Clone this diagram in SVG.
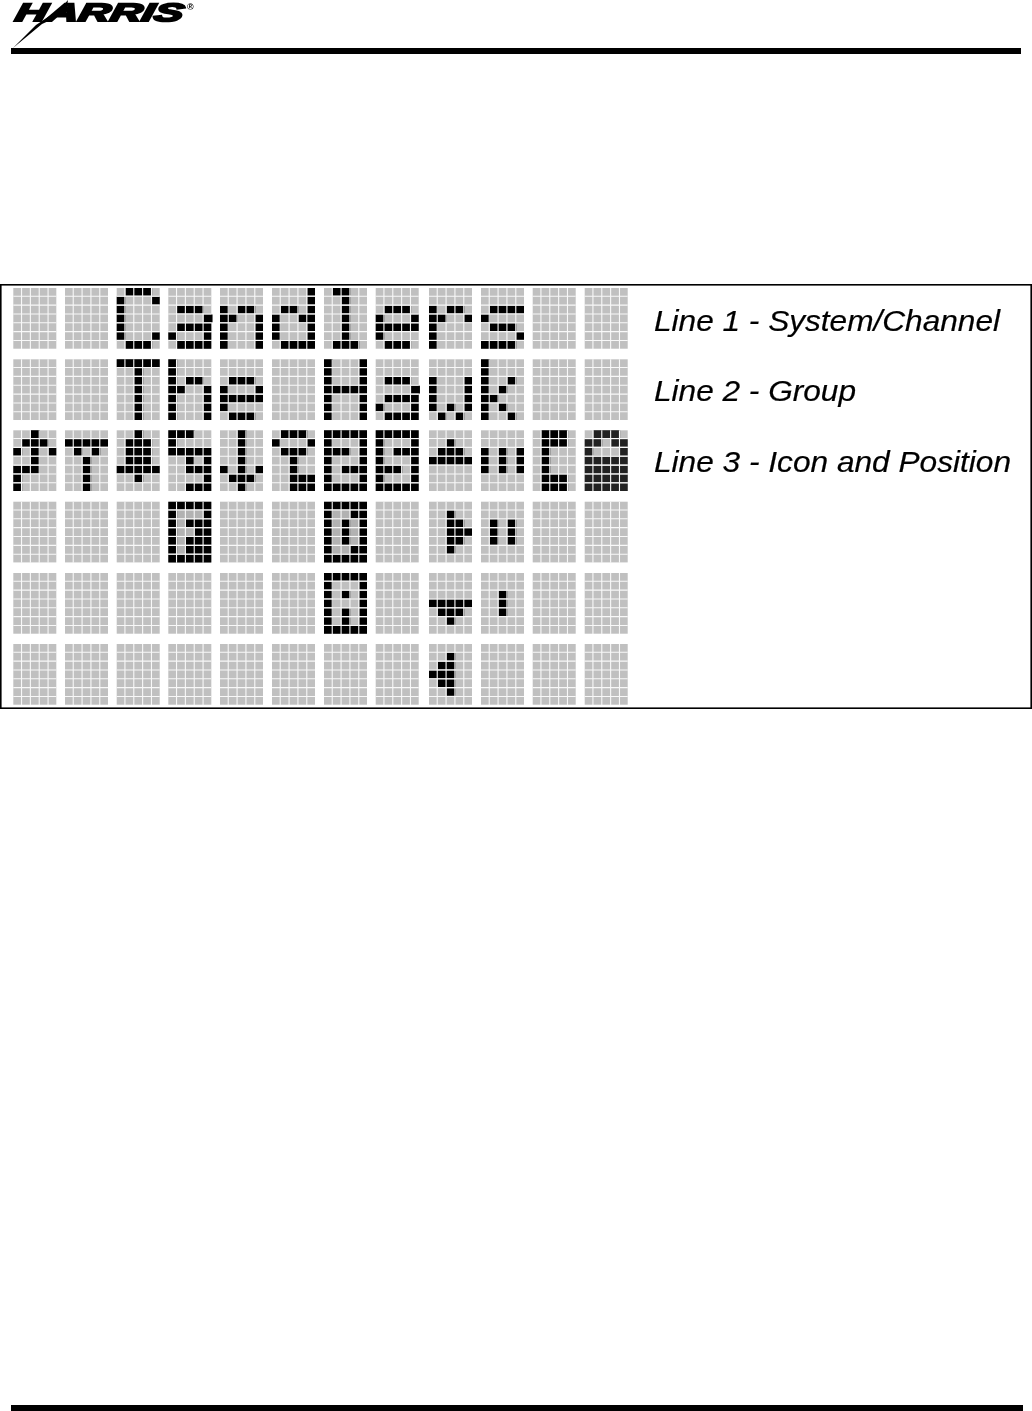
<svg xmlns="http://www.w3.org/2000/svg" width="1032" height="1411" viewBox="0 0 1032 1411">
<style>
.k,.d,.t{fill:none;stroke-width:.86}
.k{stroke:#000}
.g{fill:#c0c0c0}
.d{stroke:#222}
.t{stroke:#b2b2b2}
.gap{fill:none;stroke:#f8f8f8;stroke-width:1.1}
.lab{font-family:"Liberation Sans",Arial,sans-serif;font-style:italic;font-size:29px;fill:#000;stroke:#000;stroke-width:.2}
.bar{fill:#000}
.soft{filter:url(#soft)}
</style>
<defs>
<filter id="soft" color-interpolation-filters="sRGB"><feGaussianBlur stdDeviation=".35"/></filter>
<rect id="b" class="g" width="4.86" height="6.86"/>
<path id="ga" class="k" d="M1 2.43h3M4 3.43h1M1 4.43h3.860M0 5.43h1M4 5.43h.86M1 6.43h3.860"/>
<path id="ge" class="k" d="M1 2.43h3M0 3.43h1M4 3.43h.86M0 4.43h4.860M0 5.43h1M1 6.43h3"/>
<path id="v" class="gap" d="M8.23 0V61M17.08 0V61M25.93 0V61M34.78 0V61"/>
<path id="h" class="gap" d="M0 8.23H43M0 17.08H43M0 25.93H43M0 34.78H43M0 43.63H43M0 52.48H43"/>
<g id="grid"><use href="#v"/><use href="#h"/></g>
<g id="gridrow"><use href="#grid" x="13.3"/><use href="#grid" x="65"/><use href="#grid" x="116.7"/><use href="#grid" x="168.3"/><use href="#grid" x="220"/><use href="#grid" x="272"/><use href="#grid" x="324"/><use href="#grid" x="375.7"/><use href="#grid" x="429"/><use href="#grid" x="481"/><use href="#grid" x="532.7"/><use href="#grid" x="584.7"/></g>
</defs>
<rect width="1032" height="1411" fill="#fff"/>
<g id="logo" class="soft">
<text transform="translate(14 21) skewX(-12)" font-family="'Liberation Sans',Arial,sans-serif" font-weight="700" font-style="italic" font-size="25" textLength="168" lengthAdjust="spacingAndGlyphs" fill="#000" stroke="#000" stroke-width="1.9">HARRIS</text>
<polygon points="13,48 36,25 60,9 68,0 66,13 42,24" fill="#000"/>
<text x="187" y="10" font-family="'Liberation Sans',Arial,sans-serif" font-weight="700" font-size="9" fill="#000">®</text>
</g>
<rect id="top-rule" class="bar" x="11" y="48" width="1010" height="6"/>
<rect id="bottom-rule" class="bar" x="11" y="1405" width="1012" height="6"/>
<rect id="frame" x=".8" y="284.8" width="1030.4" height="423.4" fill="none" stroke="#000" stroke-width="1.6"/>

<g id="display" class="soft">
<g id="line-1">
<g id="r1c0" transform="translate(13.3 288) scale(8.85)"><use href="#b"/></g>
<g id="r1c1" transform="translate(65 288) scale(8.85)"><use href="#b"/></g>
<g id="r1c2" transform="translate(116.7 288) scale(8.85)"><use href="#b"/><path class="k" d="M1 .43h3M0 1.43h1M4 1.43h.86M0 2.43h1M0 3.43h1M0 4.43h1M0 5.43h1M4 5.43h.86M1 6.43h3"/></g>
<g id="r1c3" transform="translate(168.3 288) scale(8.85)"><use href="#b"/><use href="#ga"/></g>
<g id="r1c4" transform="translate(220 288) scale(8.85)"><use href="#b"/><path class="k" d="M0 2.43h1M2 2.43h2M0 3.43h2M4 3.43h.86M0 4.43h1M4 4.43h.86M0 5.43h1M4 5.43h.86M0 6.43h1M4 6.43h.86"/></g>
<g id="r1c5" transform="translate(272 288) scale(8.85)"><use href="#b"/><path class="k" d="M4 .43h.86M4 1.43h.86M1 2.43h2M4 2.43h.86M0 3.43h1M3 3.43h1.860M0 4.43h1M4 4.43h.86M0 5.43h1M4 5.43h.86M1 6.43h3.860"/></g>
<g id="r1c6" transform="translate(324 288) scale(8.85)"><use href="#b"/><path class="k" d="M1 .43h2M2 1.43h1M2 2.43h1M2 3.43h1M2 4.43h1M2 5.43h1M1 6.43h3"/></g>
<g id="r1c7" transform="translate(375.7 288) scale(8.85)"><use href="#b"/><use href="#ge"/></g>
<g id="r1c8" transform="translate(429 288) scale(8.85)"><use href="#b"/><path class="k" d="M0 2.43h1M2 2.43h2M0 3.43h2M4 3.43h.86M0 4.43h1M0 5.43h1M0 6.43h1"/></g>
<g id="r1c9" transform="translate(481 288) scale(8.85)"><use href="#b"/><path class="k" d="M1 2.43h3.860M0 3.43h1M1 4.43h3M4 5.43h.86M0 6.43h4"/></g>
<g id="r1c10" transform="translate(532.7 288) scale(8.85)"><use href="#b"/></g>
<g id="r1c11" transform="translate(584.7 288) scale(8.85)"><use href="#b"/></g>
</g>

<g id="line-2">
<g id="r2c0" transform="translate(13.3 359.3) scale(8.85)"><use href="#b"/></g>
<g id="r2c1" transform="translate(65 359.3) scale(8.85)"><use href="#b"/></g>
<g id="r2c2" transform="translate(116.7 359.3) scale(8.85)"><use href="#b"/><path class="k" d="M0 .43h4.860M2 1.43h1M2 2.43h1M2 3.43h1M2 4.43h1M2 5.43h1M2 6.43h1"/></g>
<g id="r2c3" transform="translate(168.3 359.3) scale(8.85)"><use href="#b"/><path class="k" d="M0 .43h1M0 1.43h1M0 2.43h1M2 2.43h2M0 3.43h2M4 3.43h.86M0 4.43h1M4 4.43h.86M0 5.43h1M4 5.43h.86M0 6.43h1M4 6.43h.86"/></g>
<g id="r2c4" transform="translate(220 359.3) scale(8.85)"><use href="#b"/><use href="#ge"/></g>
<g id="r2c5" transform="translate(272 359.3) scale(8.85)"><use href="#b"/></g>
<g id="r2c6" transform="translate(324 359.3) scale(8.85)"><use href="#b"/><path class="k" d="M0 .43h1M4 .43h.86M0 1.43h1M4 1.43h.86M0 2.43h1M4 2.43h.86M0 3.43h4.860M0 4.43h1M4 4.43h.86M0 5.43h1M4 5.43h.86M0 6.43h1M4 6.43h.86"/></g>
<g id="r2c7" transform="translate(375.7 359.3) scale(8.85)"><use href="#b"/><use href="#ga"/></g>
<g id="r2c8" transform="translate(429 359.3) scale(8.85)"><use href="#b"/><path class="k" d="M0 2.43h1M4 2.43h.86M0 3.43h1M4 3.43h.86M0 4.43h1M4 4.43h.86M0 5.43h1M2 5.43h1M4 5.43h.86M1 6.43h1M3 6.43h1"/></g>
<g id="r2c9" transform="translate(481 359.3) scale(8.85)"><use href="#b"/><path class="k" d="M0 .43h1M0 1.43h1M0 2.43h1M3 2.43h1M0 3.43h1M2 3.43h1M0 4.43h2M0 5.43h1M2 5.43h1M0 6.43h1M3 6.43h1"/></g>
<g id="r2c10" transform="translate(532.7 359.3) scale(8.85)"><use href="#b"/></g>
<g id="r2c11" transform="translate(584.7 359.3) scale(8.85)"><use href="#b"/></g>
</g>

<g id="line-3">
<g id="r3c0" transform="translate(13.3 430.3) scale(8.85)"><use href="#b"/><path class="k" d="M2 .43h1M1 1.43h3M0 2.43h1M2 2.43h1M4 2.43h.86M2 3.43h1M0 4.43h3M0 5.43h1M0 6.43h1"/></g>
<g id="r3c1" transform="translate(65 430.3) scale(8.85)"><use href="#b"/><path class="k" d="M0 1.43h4.860M1 2.43h1M3 2.43h1M2 3.43h1M2 4.43h1M2 5.43h1M2 6.43h1"/></g>
<g id="r3c2" transform="translate(116.7 430.3) scale(8.85)"><use href="#b"/><path class="k" d="M2 .43h1M1 1.43h3M1 2.43h3M1 3.43h3M0 4.43h4.860M2 5.43h1"/></g>
<g id="r3c3" transform="translate(168.3 430.3) scale(8.85)"><use href="#b"/><path class="k" d="M0 .43h3M0 1.43h1M0 2.43h4.860M2 3.43h1M4 3.43h.86M2 4.43h2.860M4 5.43h.86M2 6.43h2.860"/></g>
<g id="r3c4" transform="translate(220 430.3) scale(8.85)"><use href="#b"/><path class="k" d="M2 .43h1M2 1.43h1M2 2.43h1M2 3.43h1M0 4.43h1M2 4.43h1M4 4.43h.86M1 5.43h3M2 6.43h1"/></g>
<g id="r3c5" transform="translate(272 430.3) scale(8.85)"><use href="#b"/><path class="k" d="M1 .43h3M0 1.43h1M4 1.43h.86M1 2.43h3M2 3.43h1M2 4.43h1M2 5.43h2.860M2 6.43h2.860"/></g>
<g id="r3c6" transform="translate(324 430.3) scale(8.85)"><use href="#b"/><path class="k" d="M0 .43h4.860M0 1.43h1M4 1.43h.86M0 2.43h3M4 2.43h.86M0 3.43h1M4 3.43h.86M0 4.43h1M2 4.43h2.860M0 5.43h1M4 5.43h.86M0 6.43h4.860"/></g>
<g id="r3c7" transform="translate(375.7 430.3) scale(8.85)"><use href="#b"/><path class="k" d="M0 .43h4.860M0 1.43h1M4 1.43h.86M0 2.43h1M2 2.43h2.860M0 3.43h1M4 3.43h.86M0 4.43h3M4 4.43h.86M0 5.43h1M4 5.43h.86M0 6.43h4.860"/></g>
<g id="r3c8" transform="translate(429 430.3) scale(8.85)"><use href="#b"/><path class="k" d="M2 1.43h1M1 2.43h3M0 3.43h4.860"/></g>
<g id="r3c9" transform="translate(481 430.3) scale(8.85)"><use href="#b"/><path class="k" d="M0 2.43h1M2 2.43h1M4 2.43h.86M0 3.43h1M2 3.43h1M4 3.43h.86M0 4.43h1M2 4.43h1M4 4.43h.86"/></g>
<g id="r3c10" transform="translate(532.7 430.3) scale(8.85)"><use href="#b"/><path class="k" d="M1 .43h3M1 1.43h3M1 2.43h1M1 3.43h1M1 4.43h1M1 5.43h3M1 6.43h3"/></g>
<g id="r3c11" transform="translate(584.7 430.3) scale(8.85)"><use href="#b"/><path class="d" d="M1 .43h3M0 1.43h2M3 1.43h1.860M0 2.43h1M4 2.43h.86M0 3.43h4.860M0 4.43h4.860M0 5.43h4.860M0 6.43h4.860"/></g>
</g>

<g id="line-4">
<g id="r4c0" transform="translate(13.3 501.7) scale(8.85)"><use href="#b"/></g>
<g id="r4c1" transform="translate(65 501.7) scale(8.85)"><use href="#b"/></g>
<g id="r4c2" transform="translate(116.7 501.7) scale(8.85)"><use href="#b"/></g>
<g id="r4c3" transform="translate(168.3 501.7) scale(8.85)"><use href="#b"/><path class="t" d="M1 1.43h3M1 2.43h1M1 3.43h2M1 4.43h1M1 5.43h1"/><path class="k" d="M0 .43h4.860M0 1.43h1M4 1.43h.86M0 2.43h1M2 2.43h2.860M0 3.43h1M3 3.43h1.860M0 4.43h1M2 4.43h2.860M0 5.43h1M2 5.43h2.860M0 6.43h4.860"/></g>
<g id="r4c4" transform="translate(220 501.7) scale(8.85)"><use href="#b"/></g>
<g id="r4c5" transform="translate(272 501.7) scale(8.85)"><use href="#b"/></g>
<g id="r4c6" transform="translate(324 501.7) scale(8.85)"><use href="#b"/><path class="t" d="M1 1.43h2M1 2.43h1M3 2.43h1M1 3.43h1M3 3.43h1M1 4.43h1M3 4.43h1M1 5.43h2"/><path class="k" d="M0 .43h4.860M0 1.43h1M3 1.43h1.860M0 2.43h1M2 2.43h1M4 2.43h.86M0 3.43h1M2 3.43h1M4 3.43h.86M0 4.43h1M2 4.43h1M4 4.43h.86M0 5.43h1M3 5.43h1.860M0 6.43h4.860"/></g>
<g id="r4c7" transform="translate(375.7 501.7) scale(8.85)"><use href="#b"/></g>
<g id="r4c8" transform="translate(429 501.7) scale(8.85)"><use href="#b"/><path class="k" d="M2 1.43h1M2 2.43h2M2 3.43h2.860M2 4.43h2M2 5.43h1"/></g>
<g id="r4c9" transform="translate(481 501.7) scale(8.85)"><use href="#b"/><path class="k" d="M1 2.43h1M3 2.43h1M1 3.43h1M3 3.43h1M1 4.43h1M3 4.43h1"/></g>
<g id="r4c10" transform="translate(532.7 501.7) scale(8.85)"><use href="#b"/></g>
<g id="r4c11" transform="translate(584.7 501.7) scale(8.85)"><use href="#b"/></g>
</g>

<g id="line-5">
<g id="r5c0" transform="translate(13.3 573) scale(8.85)"><use href="#b"/></g>
<g id="r5c1" transform="translate(65 573) scale(8.85)"><use href="#b"/></g>
<g id="r5c2" transform="translate(116.7 573) scale(8.85)"><use href="#b"/></g>
<g id="r5c3" transform="translate(168.3 573) scale(8.85)"><use href="#b"/></g>
<g id="r5c4" transform="translate(220 573) scale(8.85)"><use href="#b"/></g>
<g id="r5c5" transform="translate(272 573) scale(8.85)"><use href="#b"/></g>
<g id="r5c6" transform="translate(324 573) scale(8.85)"><use href="#b"/><path class="k" d="M0 .43h4.860M0 1.43h1M4 1.43h.86M0 2.43h1M2 2.43h1M4 2.43h.86M0 3.43h1M4 3.43h.86M0 4.43h1M2 4.43h1M4 4.43h.86M0 5.43h1M2 5.43h1M4 5.43h.86M0 6.43h4.860"/></g>
<g id="r5c7" transform="translate(375.7 573) scale(8.85)"><use href="#b"/></g>
<g id="r5c8" transform="translate(429 573) scale(8.85)"><use href="#b"/><path class="k" d="M0 3.43h4.860M1 4.43h3M2 5.43h1"/></g>
<g id="r5c9" transform="translate(481 573) scale(8.85)"><use href="#b"/><path class="k" d="M2 2.43h1M2 3.43h1M2 4.43h1"/></g>
<g id="r5c10" transform="translate(532.7 573) scale(8.85)"><use href="#b"/></g>
<g id="r5c11" transform="translate(584.7 573) scale(8.85)"><use href="#b"/></g>
</g>

<g id="line-6">
<g id="r6c0" transform="translate(13.3 644) scale(8.85)"><use href="#b"/></g>
<g id="r6c1" transform="translate(65 644) scale(8.85)"><use href="#b"/></g>
<g id="r6c2" transform="translate(116.7 644) scale(8.85)"><use href="#b"/></g>
<g id="r6c3" transform="translate(168.3 644) scale(8.85)"><use href="#b"/></g>
<g id="r6c4" transform="translate(220 644) scale(8.85)"><use href="#b"/></g>
<g id="r6c5" transform="translate(272 644) scale(8.85)"><use href="#b"/></g>
<g id="r6c6" transform="translate(324 644) scale(8.85)"><use href="#b"/></g>
<g id="r6c7" transform="translate(375.7 644) scale(8.85)"><use href="#b"/></g>
<g id="r6c8" transform="translate(429 644) scale(8.85)"><use href="#b"/><path class="k" d="M2 1.43h1M1 2.43h2M0 3.43h3M1 4.43h2M2 5.43h1"/></g>
<g id="r6c9" transform="translate(481 644) scale(8.85)"><use href="#b"/></g>
<g id="r6c10" transform="translate(532.7 644) scale(8.85)"><use href="#b"/></g>
<g id="r6c11" transform="translate(584.7 644) scale(8.85)"><use href="#b"/></g>
</g>

<g id="cell-gaps">
<use href="#gridrow" y="288"/><use href="#gridrow" y="359.3"/><use href="#gridrow" y="430.3"/><use href="#gridrow" y="501.7"/><use href="#gridrow" y="573"/><use href="#gridrow" y="644"/>
</g>
</g>

<g id="labels" class="soft">
<text class="lab" x="654" y="330.7" textLength="346" lengthAdjust="spacingAndGlyphs">Line 1 - System/Channel</text>
<text class="lab" x="654" y="401" textLength="202" lengthAdjust="spacingAndGlyphs">Line 2 - Group</text>
<text class="lab" x="654" y="471.7" textLength="357" lengthAdjust="spacingAndGlyphs">Line 3 - Icon and Position</text>
</g>
</svg>
